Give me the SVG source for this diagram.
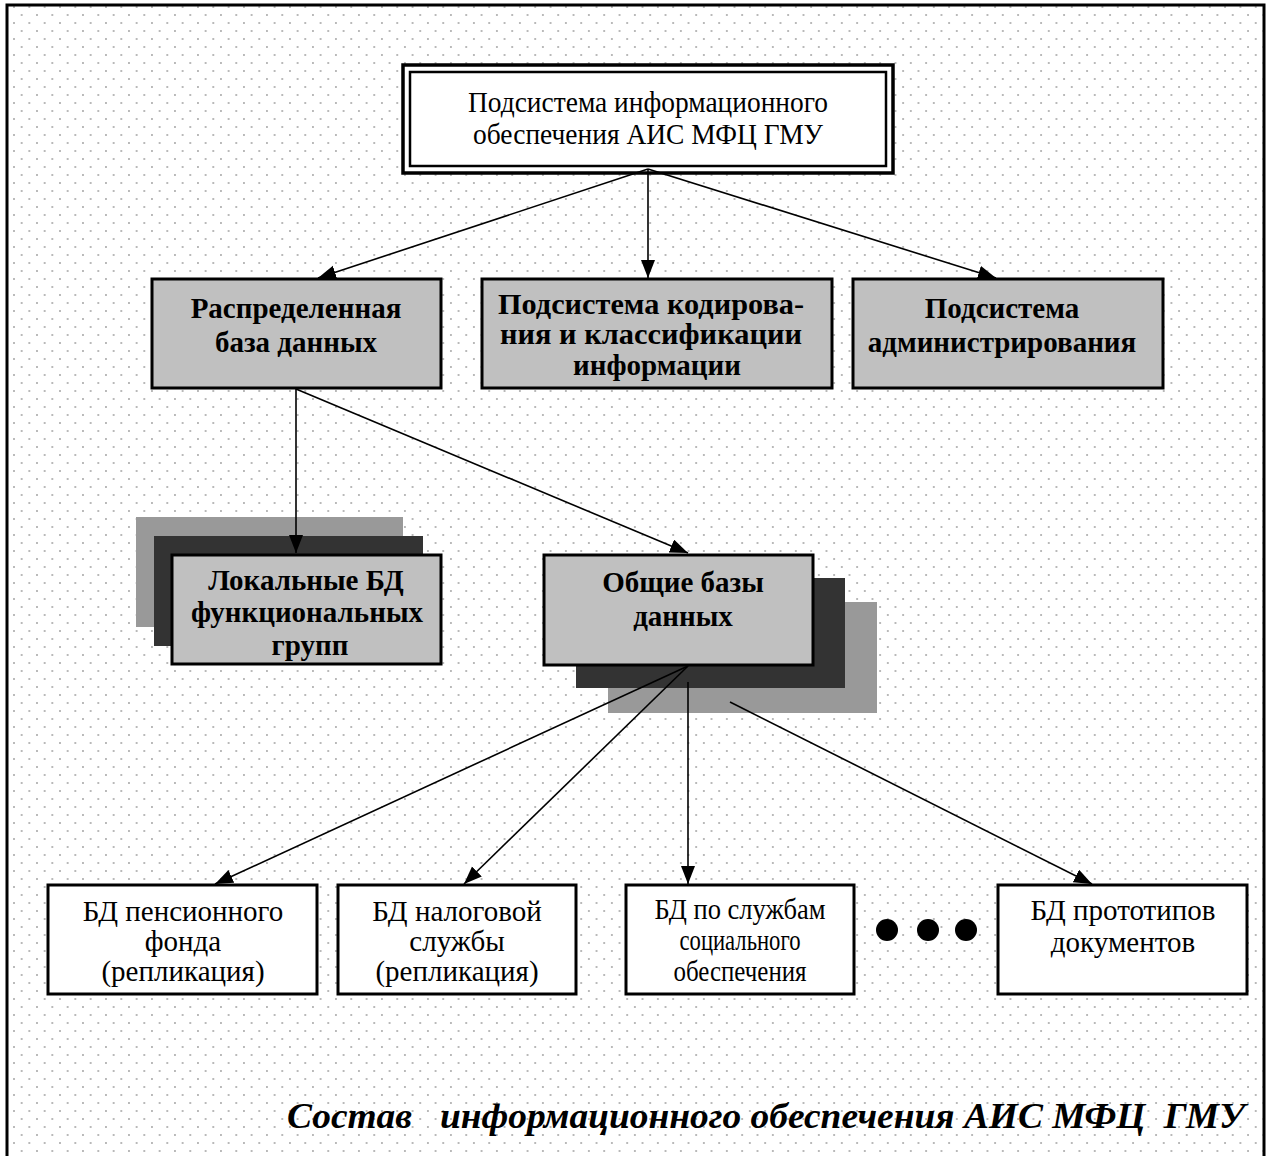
<svg xmlns="http://www.w3.org/2000/svg" width="1268" height="1156" viewBox="0 0 1268 1156">
  <defs>
    <pattern id="dots" x="14" y="7" width="15.33" height="16" patternUnits="userSpaceOnUse">
      <circle cx="0" cy="0" r="0.9" fill="#9a9a9a"/>
      <circle cx="15.33" cy="0" r="0.9" fill="#9a9a9a"/>
      <circle cx="0" cy="16" r="0.9" fill="#9a9a9a"/>
      <circle cx="15.33" cy="16" r="0.9" fill="#9a9a9a"/>
      <circle cx="7.67" cy="8" r="0.9" fill="#9a9a9a"/>
    </pattern>
    <marker id="arrow" markerWidth="20" markerHeight="16" refX="18" refY="7" orient="auto" markerUnits="userSpaceOnUse">
      <path d="M0,0 L18,7 L0,14 Z" fill="#000"/>
    </marker>
    <style>
      .frame { fill: url(#dots); stroke: #000; stroke-width: 3; }
      .gray { fill: #c0c0c0; stroke: #000; stroke-width: 3; }
      .white { fill: #fff; stroke: #000; stroke-width: 3; }
      .shadow-dark { fill: #333; }
      .shadow-light { fill: #999; }
      .conn { stroke: #000; stroke-width: 1.6; fill: none; }
      .arr { marker-end: url(#arrow); }
      text { font-family: "Liberation Serif", "Times New Roman", serif; fill: #000; text-anchor: middle; }
      .reg { font-size: 30px; }
      .bold { font-size: 29px; font-weight: bold; }
      .small { font-size: 29px; }
      .caption { font-size: 36px; font-weight: bold; font-style: italic; text-anchor: start; white-space: pre; }
    </style>
  </defs>

  <!-- dotted background and outer frame -->
  <rect class="frame" x="7" y="5" width="1257" height="1156"/>

  <!-- top node -->
  <g id="node-root">
    <rect x="403" y="65" width="490" height="108" fill="#fff" stroke="#000" stroke-width="3.5"/>
    <rect x="410" y="72" width="476" height="94" fill="none" stroke="#000" stroke-width="2.5"/>
    <text class="reg" x="648" y="112" textLength="360" lengthAdjust="spacingAndGlyphs">Подсистема информационного</text>
    <text class="reg" x="648" y="144" textLength="350" lengthAdjust="spacingAndGlyphs">обеспечения АИС МФЦ ГМУ</text>
  </g>

  <g id="node-distributed-db">
    <rect class="gray" x="152" y="279" width="289" height="109"/>
    <text class="bold" x="296" y="318">Распределенная</text>
    <text class="bold" x="296" y="352">база данных</text>
  </g>

  <g id="node-coding">
    <rect class="gray" x="482" y="279" width="350" height="109"/>
    <text class="bold" x="651" y="314" textLength="306" lengthAdjust="spacingAndGlyphs">Подсистема кодирова-</text>
    <text class="bold" x="651" y="344" textLength="302" lengthAdjust="spacingAndGlyphs">ния и классификации</text>
    <text class="bold" x="657" y="375">информации</text>
  </g>

  <g id="node-admin">
    <rect class="gray" x="853" y="279" width="310" height="109"/>
    <text class="bold" x="1002" y="318">Подсистема</text>
    <text class="bold" x="1002" y="352">администрирования</text>
  </g>

  <g id="node-local-db">
    <rect class="shadow-light" x="136" y="517" width="267" height="110"/>
    <rect class="shadow-dark" x="154" y="536" width="269" height="110"/>
    <rect class="gray" x="172" y="555" width="269" height="109"/>
    <text class="bold" x="306" y="590">Локальные БД</text>
    <text class="bold" x="307" y="622">функциональных</text>
    <text class="bold" x="310" y="655">групп</text>
  </g>

  <g id="node-common-db">
    <rect class="shadow-light" x="608" y="602" width="269" height="111"/>
    <rect class="shadow-dark" x="576" y="578" width="269" height="110"/>
    <rect class="gray" x="544" y="555" width="269" height="110"/>
    <text class="bold" x="683" y="592">Общие базы</text>
    <text class="bold" x="683" y="626">данных</text>
  </g>

  <g id="node-pension">
    <rect class="white" x="48" y="885" width="269" height="109"/>
    <text class="small" x="183" y="921">БД пенсионного</text>
    <text class="small" x="183" y="951">фонда</text>
    <text class="small" x="183" y="981">(репликация)</text>
  </g>

  <g id="node-tax">
    <rect class="white" x="338" y="885" width="238" height="109"/>
    <text class="small" x="457" y="921">БД налоговой</text>
    <text class="small" x="457" y="951">службы</text>
    <text class="small" x="457" y="981">(репликация)</text>
  </g>

  <g id="node-social">
    <rect class="white" x="626" y="885" width="228" height="109"/>
    <text class="small" x="740" y="919" textLength="171" lengthAdjust="spacingAndGlyphs">БД по службам</text>
    <text class="small" x="740" y="950" textLength="121" lengthAdjust="spacingAndGlyphs">социального</text>
    <text class="small" x="740" y="981" textLength="133" lengthAdjust="spacingAndGlyphs">обеспечения</text>
  </g>

  <g id="ellipsis">
    <circle cx="887" cy="930" r="11" fill="#000"/>
    <circle cx="928" cy="930" r="11" fill="#000"/>
    <circle cx="966" cy="930" r="11" fill="#000"/>
  </g>

  <g id="node-prototypes">
    <rect class="white" x="998" y="885" width="249" height="109"/>
    <text class="small" x="1123" y="920">БД прототипов</text>
    <text class="small" x="1123" y="952">документов</text>
  </g>

  <!-- connectors, drawn over the stacked shadows -->
  <g id="connectors">
    <line class="conn arr" x1="648" y1="169" x2="318" y2="278"/>
    <line class="conn arr" x1="648" y1="169" x2="648" y2="278"/>
    <line class="conn arr" x1="648" y1="169" x2="996" y2="278"/>
    <line class="conn arr" x1="296" y1="389" x2="296" y2="553"/>
    <line class="conn arr" x1="296" y1="389" x2="688" y2="553"/>
    <line class="conn arr" x1="688" y1="666" x2="215" y2="884"/>
    <line class="conn arr" x1="688" y1="666" x2="464" y2="884"/>
    <line class="conn arr" x1="688" y1="682" x2="688" y2="884"/>
    <line class="conn arr" x1="730" y1="702" x2="1092" y2="884"/>
  </g>

  <text class="caption" x="287" y="1128" textLength="958" lengthAdjust="spacingAndGlyphs">Состав   информационного обеспечения АИС МФЦ  ГМУ</text>
</svg>
